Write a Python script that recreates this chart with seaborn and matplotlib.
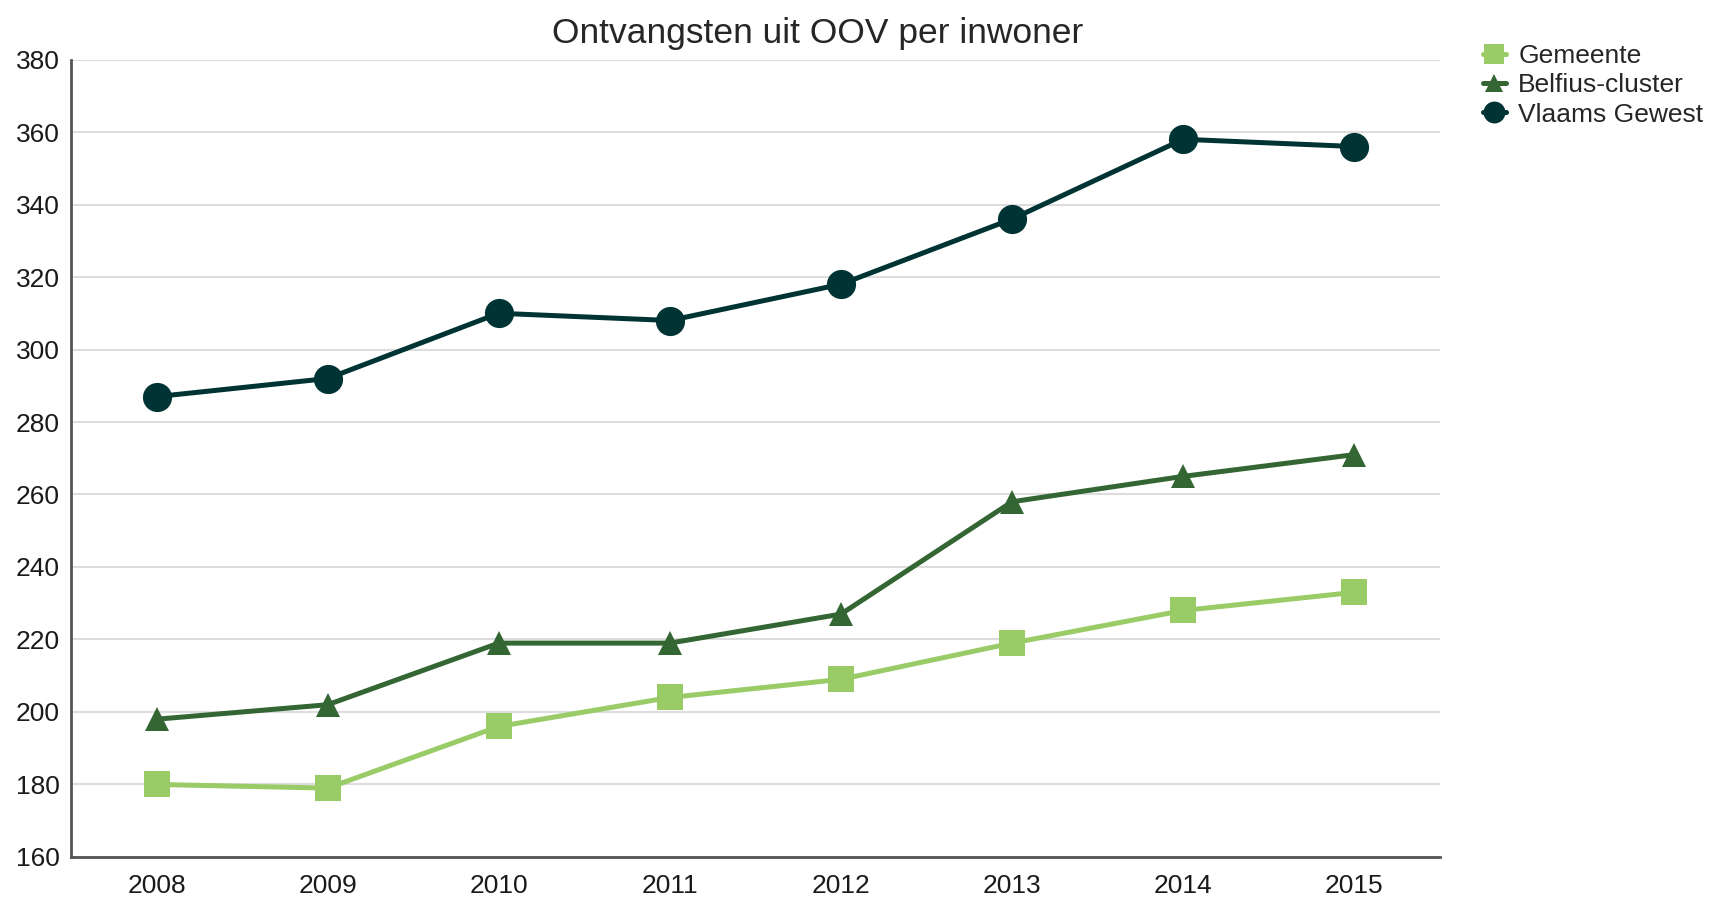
import seaborn as sns
import matplotlib.pyplot as plt
import pandas as pd

years = ['2008', '2009', '2010', '2011', '2012', '2013', '2014', '2015']
gemeente = [180, 179, 196, 204, 209, 219, 228, 233]
belfius = [198, 202, 219, 219, 227, 258, 265, 271]
vlaams = [287, 292, 310, 308, 318, 336, 358, 356]
series = ['Gemeente', 'Belfius-cluster', 'Vlaams Gewest']

df = pd.DataFrame({
    'jaar': years * 3,
    'waarde': gemeente + belfius + vlaams,
    'reeks': [series[0]] * 8 + [series[1]] * 8 + [series[2]] * 8,
})

sns.set_style('white')
plt.rcParams['font.family'] = ['Liberation Sans', 'DejaVu Sans']

fig = plt.figure(figsize=(17.11, 8.98), dpi=100)
ax = fig.add_axes([0.0415, 0.0457, 0.8, 0.888])

palette = {'Gemeente': '#99cc66', 'Belfius-cluster': '#336633', 'Vlaams Gewest': '#003333'}
markers = {'Gemeente': 's', 'Belfius-cluster': '^', 'Vlaams Gewest': 'o'}
sizes = {'Gemeente': 19, 'Belfius-cluster': 17, 'Vlaams Gewest': 21}

for name in series:
    sub = df[df['reeks'] == name]
    sns.lineplot(data=sub, x='jaar', y='waarde', ax=ax, color=palette[name],
                 marker=markers[name], markersize=sizes[name], markeredgewidth=0,
                 linewidth=3.6, label=name, sort=False)

ax.set_xlim(-0.5, 7.5)
ax.set_ylim(160, 380)
ax.set_yticks(range(160, 381, 20))
ax.yaxis.grid(True, color='#dddddd', linewidth=1.5)
ax.set_axisbelow(True)
for s in ['top', 'right']:
    ax.spines[s].set_visible(False)
for s in ['left', 'bottom']:
    ax.spines[s].set_color('#555555')
    ax.spines[s].set_linewidth(2)
ax.tick_params(axis='both', labelsize=19, length=0, colors='#1a1a1a', pad=8)
ax.tick_params(axis='x', pad=12)
ax.set_xlabel('')
ax.set_ylabel('')

fig.text(0.478, 0.963, 'Ontvangsten uit OOV per inwoner', fontsize=25.5,
         ha='center', va='center')

ax.legend(loc='upper left', bbox_to_anchor=(0.8665, 0.951), bbox_transform=fig.transFigure,
          frameon=False, fontsize=19, handlelength=0.9, handletextpad=0.45,
          labelspacing=0.2, markerscale=0.75, borderaxespad=0, borderpad=0)

fig.savefig('out.png', dpi=100)
